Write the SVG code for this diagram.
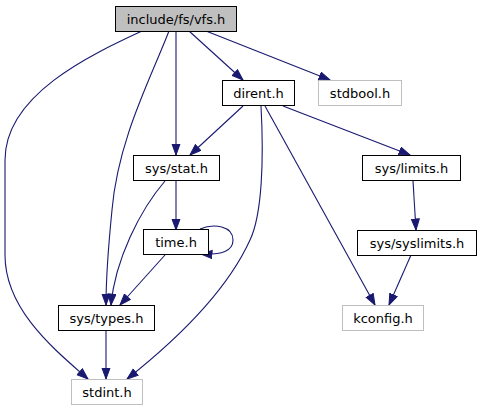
<svg xmlns="http://www.w3.org/2000/svg" width="482" height="411" viewBox="0 0 482 411">
<style>
.n rect{fill:#fff;stroke:#000;stroke-width:1}
.n.g rect{stroke:#bfbfbf}
.n.r rect{fill:#bfbfbf}
.n text{font-family:"DejaVu Sans",sans-serif;font-size:13px;text-anchor:middle;fill:#000}
.e path{fill:none;stroke:#191970;stroke-width:1.1;marker-end:url(#a)}
</style>
<defs>
<marker id="a" markerUnits="userSpaceOnUse" markerWidth="13" markerHeight="10" refX="11.5" refY="4.5" orient="auto" viewBox="0 0 13 10">
<path d="M0.5,0.5 L11.5,4.5 L0.5,8.5 z" fill="#191970" stroke="#191970" stroke-width="1"/>
</marker>
</defs>
<rect width="482" height="411" fill="#fff"/>
<g class="e" id="edges">
<path d="M189,31 L243,80"/>
<path d="M206,31 L330,80"/>
<path d="M176,31 L176,155"/>
<path d="M169,31 C150,80 118,140 112,210 C108,250 106,280 106,305"/>
<path d="M142,31 C90,55 5,95 5,160 L5,255 C5,310 55,350 88,379"/>
<path d="M243,106 L190,155"/>
<path d="M283,106 L410,155"/>
<path d="M261,106 C264,160 262,215 250,240 C225,295 170,345 127,379"/>
<path d="M265,106 L375,305"/>
<path d="M176,181 L176,230"/>
<path d="M165,181 C140,210 115,260 111,305"/>
<path d="M165,255 L120,305"/>
<path d="M106,330 L106,379"/>
<path d="M413,181 L416,230"/>
<path d="M411,255 L389,305"/>
<path d="M200,229 C214,223 233,226 233,240 C233,251 222,255 201,254"/>
</g>
<g class="n r" id="n_vfs"><rect x="115.5" y="6.5" width="121" height="25"/><text x="176" y="23.5">include/fs/vfs.h</text></g>
<g class="n" id="n_dirent"><rect x="222.5" y="80.5" width="72" height="25"/><text x="258.5" y="97.5">dirent.h</text></g>
<g class="n g" id="n_stdbool"><rect x="318.5" y="80.5" width="83" height="25"/><text x="360" y="97.5">stdbool.h</text></g>
<g class="n" id="n_stat"><rect x="133.5" y="155.5" width="86" height="25"/><text x="176.5" y="172.5">sys/stat.h</text></g>
<g class="n" id="n_limits"><rect x="362.5" y="155.5" width="98" height="25"/><text x="411.5" y="172.5">sys/limits.h</text></g>
<g class="n" id="n_time"><rect x="143.5" y="229.5" width="65" height="25"/><text x="176" y="246.5">time.h</text></g>
<g class="n" id="n_syslimits"><rect x="357.5" y="230.5" width="119" height="25"/><text x="417" y="247.5">sys/syslimits.h</text></g>
<g class="n" id="n_types"><rect x="58.5" y="305.5" width="96" height="25"/><text x="106.5" y="322.5">sys/types.h</text></g>
<g class="n g" id="n_kconfig"><rect x="342.5" y="305.5" width="81" height="25"/><text x="383" y="322.5">kconfig.h</text></g>
<g class="n g" id="n_stdint"><rect x="71.5" y="379.5" width="71" height="25"/><text x="107" y="396.5">stdint.h</text></g>
</svg>
